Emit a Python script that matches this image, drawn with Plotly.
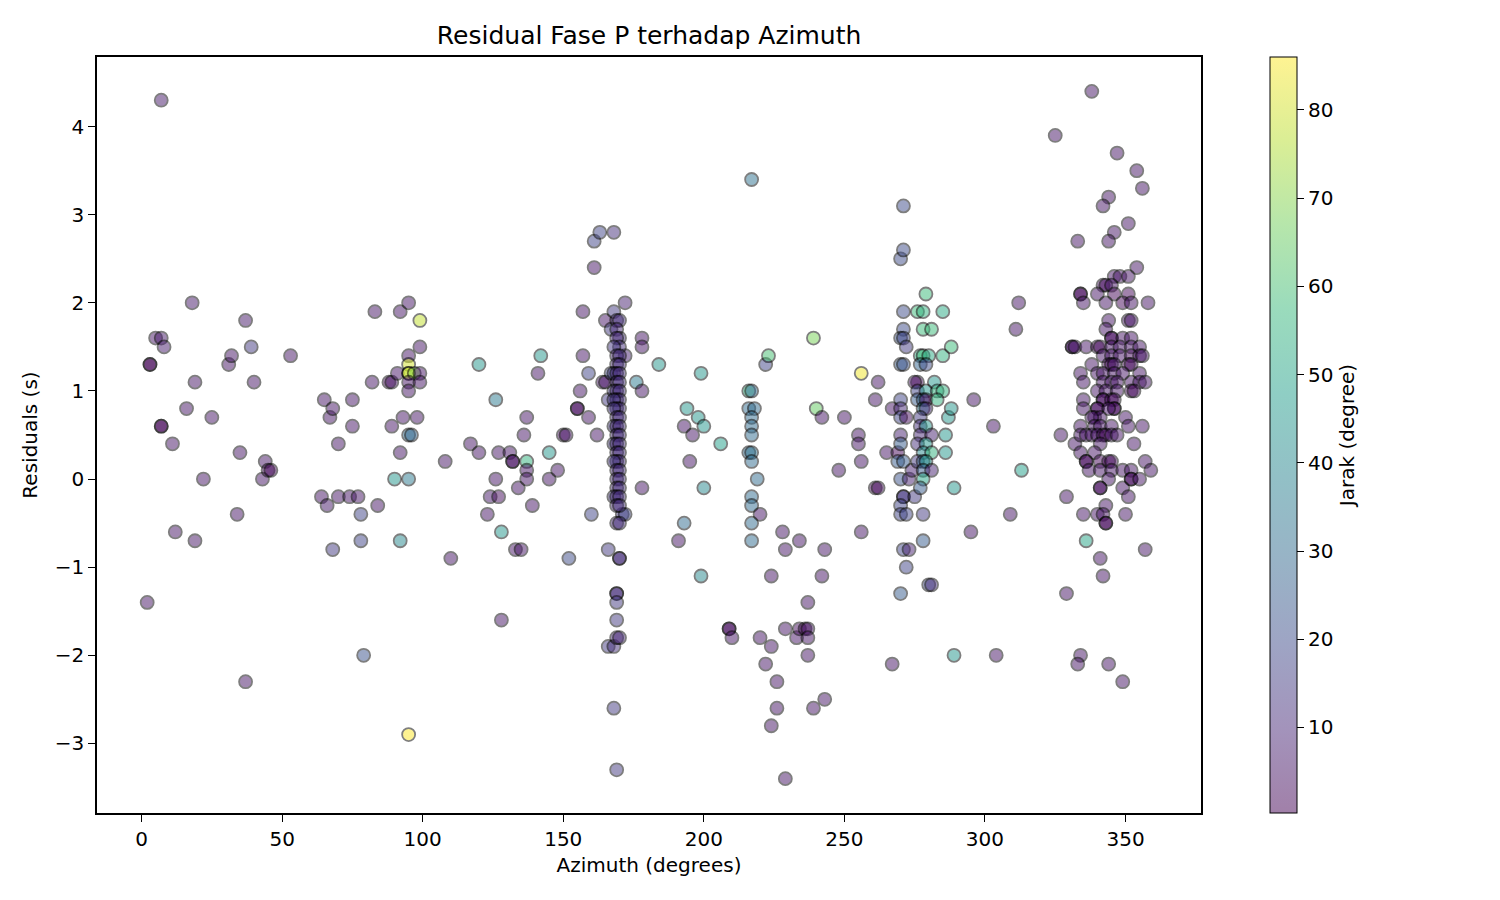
import plotly.graph_objects as go
from plotly.colors import sequential, hex_to_rgb

# azimuth (deg), residual (s), jarak / distance (deg), grouped by azimuth band
azimuth = [
    # 0 - 60
    2, 3, 3, 5, 7, 8, 7, 7, 7, 11, 12, 16, 18, 19, 19, 22, 25, 31, 32, 34, 35, 37, 37, 39, 40, 43, 44, 45, 46, 53,
    # 60 - 100
    64, 65, 66, 67, 68, 68, 70, 70, 74, 75, 75, 77, 78, 78, 79, 82, 83, 84, 88, 89, 89, 90, 92, 92, 92, 91, 93,
    95, 95, 95, 95, 95, 97, 95, 95, 95, 96, 95, 99, 99, 99, 99, 98, 95,
    # 100 - 160
    108, 110, 117, 120, 120, 123, 124, 126, 126, 127, 127, 128, 128, 131, 132, 132, 133, 134, 135, 136, 137, 137,
    137, 137, 139, 141, 142, 145, 145, 148, 150, 151, 152, 155, 155, 156, 157, 157, 159, 159, 160,
    # 160 - 185
    161, 163, 168, 161, 162, 164, 165, 165, 166, 166, 166, 168, 167, 167, 168, 172, 172, 170, 170, 169, 169, 169,
    169, 169, 170, 168, 169, 171, 172, 176, 178, 178, 178, 178, 184,
    169, 170, 169, 170, 169, 170, 168, 169, 170, 169, 170, 168, 169, 170, 169, 170, 168, 169, 170, 169, 170, 168,
    169, 170, 168, 169, 170, 168, 169, 170, 169, 170, 168, 169, 170, 169, 170, 169, 170, 168, 169, 170, 169, 170,
    169, 170, 168, 169, 170, 169, 170, 169, 170,
    # 185 - 260
    191, 193, 194, 193, 195, 196, 198, 199, 199, 200, 200, 206, 209, 209, 210, 216, 217, 216, 218, 217, 217, 217,
    216, 217, 217, 219, 217, 217, 220, 217, 217, 217, 220, 222, 223, 222, 224, 224, 224, 226, 226, 228, 229, 229,
    229, 233, 234, 234, 236, 237, 237, 237, 237, 239, 240, 239, 242, 242, 243, 243, 248, 250, 255, 255, 256, 256,
    256,
    # 260 - 300
    261, 262, 261, 262, 265, 267, 267, 269, 269, 270, 271, 271, 271, 271, 270, 271, 272, 270, 271, 270, 270, 270,
    272, 270, 270, 271, 270, 271, 271, 270, 270, 272, 271, 273, 272, 270, 273, 274, 275, 276, 278, 279, 278, 281,
    277, 278, 280, 285, 285, 277, 279, 276, 275, 282, 276, 279, 283, 285, 276, 278, 279, 283, 278, 279, 277, 277,
    279, 277, 281, 276, 279, 278, 281, 276, 278, 279, 278, 281, 278, 277, 278, 278, 280, 281, 286, 286, 287, 288,
    288, 289, 289, 295, 296,
    # 300 - 332
    303, 304, 309, 311, 312, 313, 325, 327, 329, 329, 331, 332,
    # 332 - 360
    338, 347, 354, 356, 344, 342, 351, 346, 344, 333, 354, 346, 348, 351, 342, 343, 345, 334, 334, 340, 346, 351,
    335, 343, 349, 352, 358,
    344, 351, 352, 343, 345, 345, 349, 352,
    331, 332, 336, 340, 341, 345, 348, 352, 355,
    342, 345, 348, 352, 355, 356,
    338, 344, 345, 351, 352, 346,
    334, 340, 342, 346, 349, 355,
    335, 342, 345, 347, 352, 355, 357,
    340, 343, 347, 352, 353,
    342, 342, 345, 346, 335,
    335, 340, 340, 346, 346, 344,
    339, 341, 350, 338,
    334, 339, 341, 345, 351, 356,
    334, 336, 338, 340, 342, 343, 345, 347,
    341, 353,
    334, 339,
    336, 336, 341, 344, 345, 357,
    337, 341, 345, 349, 352, 359,
    344, 352, 352, 355,
    341, 341, 349,
    351, 343,
    335, 340, 342, 350,
    343, 343, 336, 357, 341, 342, 334, 333, 344, 349,
]

residual = [
    # 0 - 60
    -1.4, 1.3, 1.3, 1.6, 1.6, 1.5, 4.3, 0.6, 0.6, 0.4, -0.6, 0.8, 2.0, 1.1, -0.7, 0.0, 0.7, 1.3, 1.4, -0.4, 0.3,
    1.8, -2.3, 1.5, 1.1, 0.0, 0.2, 0.1, 0.1, 1.4,
    # 60 - 100
    -0.2, 0.9, -0.3, 0.7, 0.8, -0.8, 0.4, -0.2, -0.2, 0.9, 0.6, -0.2, -0.4, -0.7, -2.0, 1.1, 1.9, -0.3, 1.1, 1.1,
    0.6, 0.0, 0.3, -0.7, 1.9, 1.2, 0.7,
    2.0, 1.4, 1.3, 1.2, 1.2, 1.2, 1.1, 1.0, 0.5, 0.5, 0.0, 1.8, 1.5, 1.2, 1.1, 0.7, -2.9,
    # 100 - 160
    0.2, -0.9, 0.4, 1.3, 0.3, -0.4, -0.2, 0.9, 0.0, 0.3, -0.2, -0.6, -1.6, 0.3, 0.2, 0.2, -0.8, -0.1, -0.8, 0.5,
    0.7, 0.2, 0.1, 0.0, -0.3, 1.2, 1.4, 0.3, 0.0, 0.1, 0.5, 0.5, -0.9, 0.8, 0.8, 1.0, 1.9, 1.4, 1.2, 0.7, -0.4,
    # 160 - 185
    2.7, 2.8, 2.8, 2.4, 0.5, 1.1, 1.8, 1.1, 0.9, -0.8, -1.9, -1.9, 1.7, 1.2, 1.9, 2.0, 1.4, -0.9, -0.9, -1.3,
    -1.3, -1.4, -1.6, -1.8, -1.8, -2.6, -3.3, -0.4, -0.4, 1.1, 1.6, 1.5, 1.0, -0.1, 1.3,
    1.8, 1.8, 1.7, 1.6, 1.6, 1.5, 1.5, 1.4, 1.4, 1.3, 1.3, 1.2, 1.2, 1.2, 1.1, 1.1, 1.0, 1.0, 1.0, 0.9, 0.9, 0.9,
    0.8, 0.8, 0.8, 0.7, 0.7, 0.6, 0.6, 0.6, 0.5, 0.5, 0.4, 0.4, 0.4, 0.3, 0.3, 0.2, 0.2, 0.2, 0.1, 0.1, 0.0, 0.0,
    -0.1, -0.1, -0.2, -0.2, -0.2, -0.3, -0.3, -0.5, -0.5,
    # 185 - 260
    -0.7, 0.6, 0.8, -0.5, 0.2, 0.5, 0.7, 1.2, -1.1, 0.6, -0.1, 0.4, -1.7, -1.7, -1.8, 1.0, 1.0, 0.8, 0.8, 0.7,
    0.6, 0.5, 0.3, 0.3, 0.2, 0.0, -0.2, -0.3, -0.4, -0.5, -0.7, 3.4, -1.8, 1.3, 1.4, -2.1, -1.1, -1.9, -2.8,
    -2.3, -2.6, -0.6, -0.8, -1.7, -3.4, -1.8, -0.7, -1.7, -1.7, -1.7, -1.8, -1.4, -2.0, 1.6, 0.8, -2.6, 0.7,
    -1.1, -0.8, -2.5, 0.1, 0.7, 0.5, 0.4, 0.2, -0.6, 1.2,
    # 260 - 300
    0.9, 1.1, -0.1, -0.1, 0.3, 0.8, -2.1, 0.3, 0.2, 2.5, 2.6, 3.1, 1.9, 1.7, 1.6, 1.6, 1.5, 1.3, 1.3, 0.9, 0.8,
    0.7, 0.7, 0.5, 0.4, 0.2, 0.0, -0.2, -0.2, -0.3, -0.4, -0.4, -0.8, -0.8, -1.0, -1.3, 0.0, 0.1, -0.2, 1.9,
    1.9, 2.1, 1.7, 1.7, 1.4, 1.4, 1.4, 1.4, 1.9, 1.3, 1.3, 1.1, 1.1, 1.1, 1.0, 1.0, 1.0, 1.0, 0.9, 0.9, 0.9,
    0.9, 0.8, 0.8, 0.7, 0.6, 0.6, 0.5, 0.5, 0.4, 0.4, 0.3, 0.3, 0.2, 0.2, 0.2, 0.1, 0.1, 0.0, -0.1, -0.4, -0.7,
    -1.2, -1.2, 0.5, 0.3, 0.7, 0.8, 1.5, -0.1, -2.0, -0.6, 0.9,
    # 300 - 332
    0.6, -2.0, -0.4, 1.7, 2.0, 0.1, 3.9, 0.5, -0.2, -1.3, 1.5, 0.4,
    # 332 - 360
    4.4, 3.7, 3.5, 3.3, 3.2, 3.1, 2.9, 2.8, 2.7, 2.7, 2.4, 2.3, 2.3, 2.3, 2.2, 2.2, 2.2, 2.1, 2.1, 2.1, 2.1, 2.1,
    2.0, 2.0, 2.0, 2.0, 2.0,
    1.8, 1.8, 1.8, 1.7, 1.6, 1.6, 1.6, 1.6,
    1.5, 1.5, 1.5, 1.5, 1.5, 1.5, 1.5, 1.5, 1.5,
    1.4, 1.4, 1.4, 1.4, 1.4, 1.4,
    1.3, 1.3, 1.3, 1.3, 1.3, 1.3,
    1.2, 1.2, 1.2, 1.2, 1.2, 1.2,
    1.1, 1.1, 1.1, 1.1, 1.1, 1.1, 1.1,
    1.0, 1.0, 1.0, 1.0, 1.0,
    0.9, 0.9, 0.9, 0.9, 0.9,
    0.8, 0.8, 0.8, 0.8, 0.8, 0.8,
    0.7, 0.7, 0.7, 0.7,
    0.6, 0.6, 0.6, 0.6, 0.6, 0.6,
    0.5, 0.5, 0.5, 0.5, 0.5, 0.5, 0.5, 0.5,
    0.4, 0.4,
    0.3, 0.3,
    0.2, 0.2, 0.2, 0.2, 0.2, 0.2,
    0.1, 0.1, 0.1, 0.1, 0.1, 0.1,
    0.0, 0.0, 0.0, 0.0,
    -0.1, -0.1, -0.1,
    -0.2, -0.3,
    -0.4, -0.4, -0.4, -0.4,
    -0.5, -0.5, -0.7, -0.8, -0.9, -1.1, -2.0, -2.1, -2.1, -2.3,
]

jarak = [
    # 0 - 60
    5, 0.3, 2, 5, 6, 7, 6, 1, 2, 5, 5, 5, 6, 5, 5, 5, 5, 5, 5, 5, 5, 6, 5, 15, 5, 5, 5, 3, 2, 5,
    # 60 - 100
    5, 5, 6, 5, 5, 15, 5, 5, 5, 5, 5, 5, 18, 18, 22, 5, 5, 5, 2, 5, 5, 45, 5, 40, 5, 5, 5,
    5, 5, 80, 86, 75, 70, 5, 5, 30, 28, 35, 78, 5, 5, 5, 5, 86,
    # 100 - 160
    5, 5, 5, 45, 5, 5, 6, 35, 5, 5, 3, 45, 5, 5, 2, 5, 5, 5, 5, 5, 5, 55, 5, 5, 5, 5, 45, 45, 5, 5, 3, 5, 20, 2,
    4, 5, 5, 5, 18, 5, 18,
    # 160 - 185
    18, 18, 12, 5, 5, 5, 5, 5, 15, 15, 15, 12, 15, 18, 15, 8, 8, 10, 12, 10, 12, 15, 15, 10, 10, 15, 15, 15, 18,
    35, 5, 5, 5, 5, 45,
    10, 12, 10, 12, 10, 12, 14, 10, 12, 10, 12, 14, 10, 12, 10, 12, 14, 10, 12, 10, 12, 14, 10, 12, 14, 10, 12,
    14, 10, 12, 10, 12, 14, 10, 12, 10, 12, 10, 12, 14, 10, 12, 10, 12, 10, 12, 14, 10, 12, 10, 12, 10, 12,
    # 185 - 260
    5, 5, 45, 30, 5, 5, 45, 45, 40, 45, 40, 48, 2, 4, 5, 55, 30, 30, 30, 30, 30, 30, 30, 32, 30, 30, 30, 30, 5,
    30, 30, 32, 5, 18, 60, 5, 5, 5, 5, 5, 5, 5, 5, 5, 5, 5, 5, 3, 2, 5, 5, 5, 5, 68, 65, 5, 5, 5, 5, 5, 5, 5, 5,
    5, 5, 5, 84,
    # 260 - 300
    5, 5, 1, 3, 5, 5, 5, 2, 25, 20, 20, 20, 20, 20, 22, 18, 15, 25, 22, 18, 10, 18, 3, 8, 25, 25, 22, 12, 15,
    18, 18, 18, 18, 8, 18, 25, 8, 8, 15, 58, 55, 58, 58, 58, 55, 58, 52, 55, 52, 28, 20, 2, 4, 45, 18, 45, 55,
    55, 25, 28, 2, 55, 35, 10, 15, 12, 45, 10, 8, 12, 45, 40, 55, 15, 30, 45, 25, 8, 50, 25, 15, 25, 18, 12, 45,
    45, 45, 45, 58, 45, 45, 5, 5,
    # 300 - 332
    5, 5, 5, 5, 5, 48, 5, 5, 5, 5, 5, 5,
    # 332 - 360
    5, 5, 5, 5, 5, 5, 5, 5, 5, 5, 5, 5, 5, 5, 3, 4, 5, 1, 3, 5, 2, 2,
    5, 5, 2, 5, 5,
    5, 5, 5, 5, 2, 4, 5, 5,
    5, 5, 5, 2, 3, 5, 5, 5, 5,
    5, 5, 5, 3, 5, 5,
    5, 2, 3, 2, 3, 5,
    5, 5, 5, 5, 5, 5,
    5, 5, 5, 5, 5, 5, 5,
    5, 5, 5, 2, 3,
    2, 4, 2, 3, 5,
    5, 2, 4, 2, 4, 5,
    5, 5, 5, 5,
    5, 5, 5, 5, 5, 5,
    5, 5, 5, 5, 2, 3, 5, 5,
    5, 5,
    5, 5,
    2, 3, 2, 2, 3, 5,
    5, 5, 5, 5, 5, 5,
    5, 2, 4, 5,
    2, 4, 5,
    5, 5,
    5, 5, 5, 5,
    1, 3, 50, 5, 5, 5, 5, 5, 5, 5,
]

# matplotlib draws the colorbar with the same alpha, so fade viridis toward white for it
faded = []
n = len(sequential.Viridis)
for i, c in enumerate(sequential.Viridis):
    r, g, b = hex_to_rgb(c)
    faded.append([i / (n - 1), f"rgb({(r + 255) // 2},{(g + 255) // 2},{(b + 255) // 2})"])

cmin, cmax = min(jarak), max(jarak)
font = dict(family="DejaVu Sans", size=20, color="black")

fig = go.Figure()
fig.add_trace(go.Scatter(
    x=azimuth, y=residual, mode="markers",
    marker=dict(color=jarak, colorscale="Viridis", cmin=cmin, cmax=cmax, size=13, opacity=0.5,
                line=dict(color="black", width=1.8), showscale=False),
    showlegend=False,
))
# colorbar only
fig.add_trace(go.Scatter(
    x=azimuth, y=residual, mode="markers", hoverinfo="skip", showlegend=False,
    marker=dict(color=jarak, colorscale=faded, cmin=cmin, cmax=cmax, size=1, opacity=0,
                showscale=True,
                colorbar=dict(x=1.0625, xanchor="left", y=0.5, yanchor="middle", len=1, lenmode="fraction",
                              xpad=0, ypad=0, thickness=27, outlinewidth=1, outlinecolor="black",
                              ticks="outside", ticklen=7, tickcolor="black",
                              tickvals=[10, 20, 30, 40, 50, 60, 70, 80], tickfont=font,
                              title=dict(text="Jarak (degree)", side="right", font=font))),
))

xpad = (max(azimuth) - min(azimuth)) * 0.05
ypad = (max(residual) - min(residual)) * 0.05

# page has an 8px body margin, so the figure is 8px smaller than the window
fig.update_layout(
    width=1492, height=892,
    margin=dict(l=89, r=299, t=49, b=87),
    plot_bgcolor="white", paper_bgcolor="white",
    font=font,
    title=dict(text="Residual Fase P terhadap Azimuth", x=0.4297, xanchor="center",
               y=0.9697, yanchor="middle", font=dict(family="DejaVu Sans", size=25, color="black")),
)
fig.update_xaxes(
    range=[min(azimuth) - xpad, max(azimuth) + xpad],
    tickvals=[0, 50, 100, 150, 200, 250, 300, 350],
    showgrid=False, zeroline=False, showline=True, mirror=True, linecolor="black", linewidth=1.5,
    ticks="outside", ticklen=7, tickcolor="black", tickfont=font,
    title=dict(text="Azimuth (degrees)", font=font, standoff=8),
)
fig.update_yaxes(
    range=[min(residual) - ypad, max(residual) + ypad],
    tickvals=[-3, -2, -1, 0, 1, 2, 3, 4],
    showgrid=False, zeroline=False, showline=True, mirror=True, linecolor="black", linewidth=1.5,
    ticks="outside", ticklen=7, tickcolor="black", tickfont=font,
    title=dict(text="Residuals (s)", font=font, standoff=12),
)

fig.write_html("out.html")
